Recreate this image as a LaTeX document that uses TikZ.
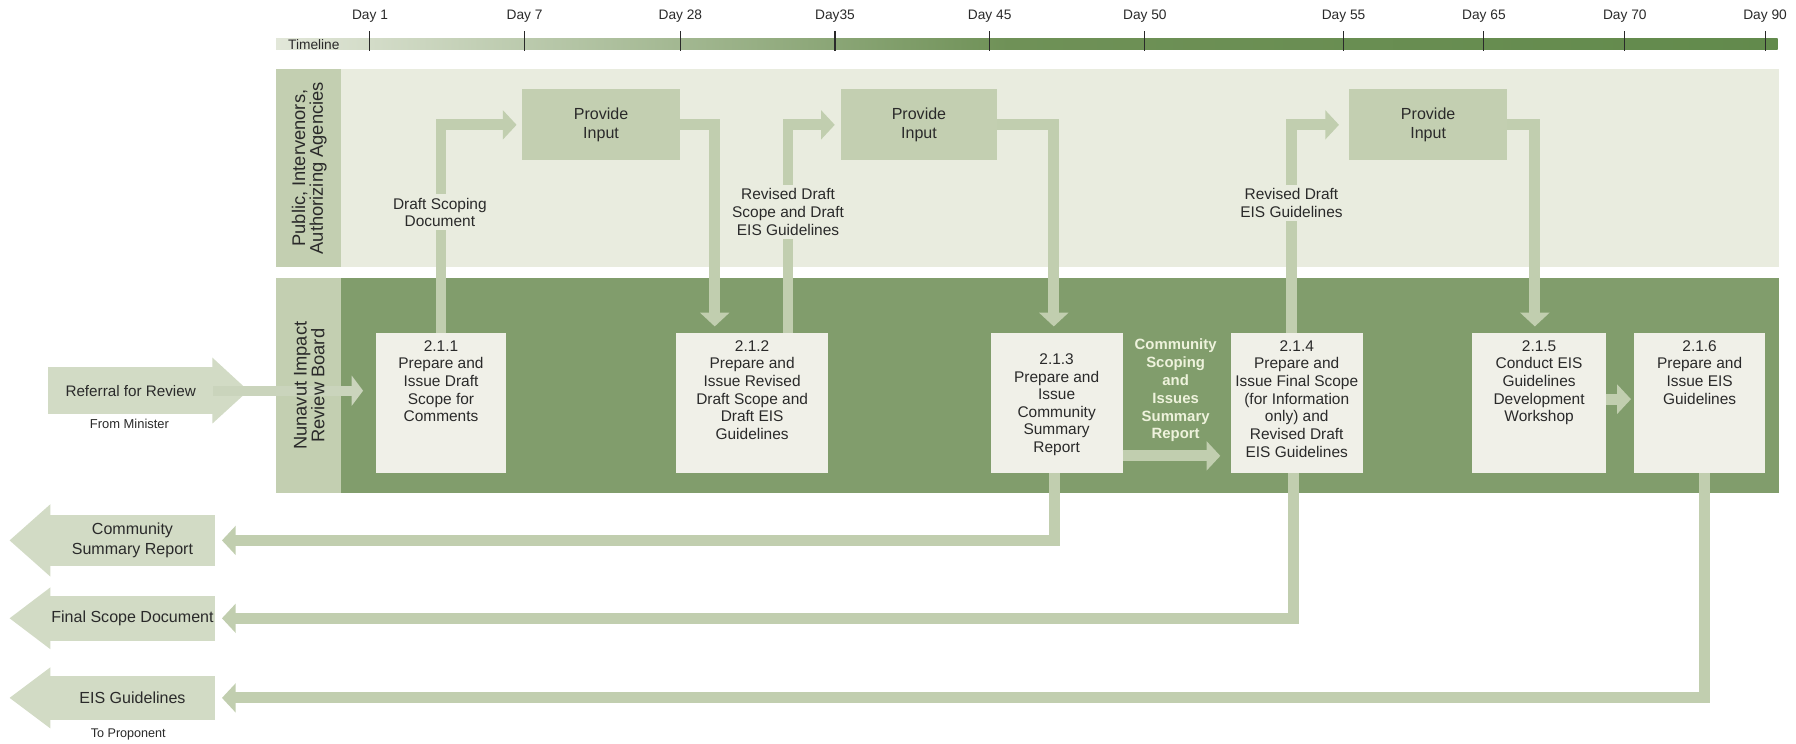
\documentclass[tikz,border=0pt]{standalone}
\usepackage{fontspec}
\setmainfont{Liberation Sans}
\usetikzlibrary{arrows.meta}
\definecolor{cPanelTop}{HTML}{E9ECDF}
\definecolor{cPanelBot}{HTML}{819D6C}
\definecolor{cLabel}{HTML}{C3CFB1}
\definecolor{cArrow}{HTML}{C1CEAF}
\definecolor{cRefBar}{HTML}{CAD4BC}
\definecolor{cBlock}{HTML}{D2DBC5}
\definecolor{cBox}{HTML}{F0F0E8}
\definecolor{cText}{HTML}{2A2A2A}
\definecolor{cCream}{HTML}{EEF2DC}
\definecolor{cTLa}{HTML}{E2E7D9}
\definecolor{cTLb}{HTML}{6F9157}
\definecolor{cTLc}{HTML}{628A4C}
\newcommand{\fs}[2]{\fontsize{#1pt}{#2pt}\selectfont}
\newcommand{\pbx}[3]{\parbox[c][122.5pt][t]{#1}{\centering\vspace*{#2}#3\par}}
\tikzset{
  procbox/.style={fill=cBox, inner sep=0pt, outer sep=0pt, text=cText, font=\fs{13.5}{15.4}},
  inputbox/.style={fill=cLabel, inner sep=0pt, outer sep=0pt, text=cText, align=center,
    font=\fs{14}{17}, minimum height=62pt},
  conn/.style={draw=cArrow, line width=9.5pt, -{Triangle[width=25pt,length=12pt]}},
  connlabel/.style={fill=cPanelTop, inner xsep=2pt, inner ysep=3pt, align=center, text=cText,
    font=\fs{13.5}{15.5}},
  blockbody/.style={fill=cBlock, inner sep=0pt, outer sep=0pt, align=center, text=cText,
    font=\fs{14}{18}, minimum width=144.3pt},
  daylabel/.style={text=cText, font=\fs{12}{14}},
  tickmark/.style={draw=cText, line width=0.9pt},
  lanelabel/.style={rotate=90, align=center, text=cText, font=\fs{16}{15.5}},
  smallnote/.style={text=cText, font=\fs{11}{13}},
}
\begin{document}
\begin{tikzpicture}[x=1pt,y=-1pt]
\useasboundingbox (0,0) rectangle (1568,649.5);
\fill[white] (0,0) rectangle (1568,649.5);

% ---------------- timeline ----------------
\shade[left color=cTLa, right color=cTLb] (241,33.5) rectangle (880,43.5);
\shade[left color=cTLb, right color=cTLc] (879.5,33.5) rectangle (1552,43.5);
\node[anchor=west, text=cText, font=\fs{12}{14}] (tl) at (248,38.5) {Timeline};
\foreach \x/\d in {323/Day 1, 458/Day 7, 594/Day 28, 729/Day35, 864/Day 45,
                   999.5/Day 50, 1173/Day 55, 1295.5/Day 65, 1418.5/Day 70, 1541/Day 90}{
  \draw[tickmark] (\x,27.5) -- (\x,44.5);
  \node[daylabel] at (\x,14.5) {\d};
}

% ---------------- swimlanes ----------------
\fill[cLabel]    (241,60.5) rectangle (298,233);
\fill[cPanelTop] (298,60.5) rectangle (1553,233);
\fill[cLabel]    (241,243) rectangle (298,430.5);
\fill[cPanelBot] (298,243) rectangle (1553,430.5);

% ---------------- input boxes ----------------
\node[inputbox, minimum width=137.5pt] (pi1) at (524.75,109) {Provide\\Input};
\node[inputbox, minimum width=137pt]   (pi2) at (802.3,109)  {Provide\\Input};
\node[inputbox, minimum width=137.7pt] (pi3) at (1246.85,109) {Provide\\Input};

% ---------------- process boxes ----------------
\node[procbox] (b211) at (385,351.75)    {\pbx{114pt}{6.7pt}{2.1.1\\Prepare and\\Issue Draft\\Scope for\\Comments}};
\node[procbox] (b212) at (656.65,351.75) {\pbx{132.3pt}{6.7pt}{2.1.2\\Prepare and\\Issue Revised\\Draft Scope and\\Draft EIS\\Guidelines}};
\node[procbox] (b213) at (922.5,351.75)  {\pbx{115.4pt}{18.2pt}{2.1.3\\Prepare and\\Issue\\Community\\Summary\\Report}};
\node[procbox] (b214) at (1132.1,351.75) {\pbx{115.4pt}{6.7pt}{2.1.4\\Prepare and\\Issue Final Scope\\(for Information\\only) and\\Revised Draft\\EIS Guidelines}};
\node[procbox] (b215) at (1343.7,351.75) {\pbx{116.4pt}{6.7pt}{2.1.5\\Conduct EIS\\Guidelines\\Development\\Workshop}};
\node[procbox] (b216) at (1483.85,351.75){\pbx{114.9pt}{6.7pt}{2.1.6\\Prepare and\\Issue EIS\\Guidelines}};

% ---------------- block arrows (in / out) ----------------
\node[blockbody, minimum width=143.8pt, minimum height=40.8pt, font=\fs{13.3}{16}] (ref) at (114.1,341.1) {Referral for Review};
\fill[cBlock] ([xshift=-0.5pt,yshift=8.4pt]ref.north east) -- ([xshift=30.8pt]ref.east)
   -- ([xshift=-0.5pt,yshift=-8.2pt]ref.south east) -- cycle;
\node[smallnote, font=\fs{11.3}{13}] (frommin) at (113,370) {From Minister};

\node[blockbody, minimum height=44.4pt] (csr) at (115.65,471.8) {Community\\Summary Report};
\fill[cBlock] ([xshift=0.5pt,yshift=9.4pt]csr.north west) -- ([xshift=-35.1pt]csr.west)
   -- ([xshift=0.5pt,yshift=-9.4pt]csr.south west) -- cycle;

\node[blockbody, minimum height=39pt] (fsd) at (115.65,539.8) {Final Scope Document};
\fill[cBlock] ([xshift=0.5pt,yshift=7.5pt]fsd.north west) -- ([xshift=-35.1pt]fsd.west)
   -- ([xshift=0.5pt,yshift=-7.5pt]fsd.south west) -- cycle;

\node[blockbody, minimum height=38.6pt] (eis) at (115.65,609.3) {EIS Guidelines};
\fill[cBlock] ([xshift=0.5pt,yshift=7.4pt]eis.north west) -- ([xshift=-35.1pt]eis.west)
   -- ([xshift=0.5pt,yshift=-7.4pt]eis.south west) -- cycle;
\node[smallnote] (toprop) at (112,640.8) {To Proponent};

% ---------------- connectors ----------------
\draw[conn, draw=cRefBar, line width=9pt, -{Triangle[width=26pt,length=10pt]}, shorten >=11pt]
   (ref.east) -- (ref.east -| b211.west);
\draw[conn, shorten >=5pt]   (b211.north) |- (pi1.west);
\draw[conn, shorten >=5.5pt] (pi1.east) -| ([xshift=-32.65pt]b212.north);
\draw[conn, shorten >=5pt]   ([xshift=31.35pt]b212.north) |- (pi2.west);
\draw[conn, shorten >=5.5pt] (pi2.east) -| ([xshift=-2.5pt]b213.north);
\draw[conn, shorten >=9pt]   ([yshift=-46.25pt]b213.east) -- ([yshift=-46.25pt]b214.west);
\draw[conn, shorten >=9pt]   ([xshift=-4.6pt]b214.north) |- (pi3.west);
\draw[conn, shorten >=5.5pt] (pi3.east) -| ([xshift=-3.7pt]b215.north);
\draw[conn, shorten >=2.5pt] ([yshift=3.25pt]b215.east) -- ([yshift=3.25pt]b216.west);
\draw[conn, shorten >=6pt]   ([xshift=-2pt]b213.south) |- (csr.east);
\draw[conn, shorten >=6pt]   ([xshift=-2.5pt]b214.south) |- (fsd.east);
\draw[conn, shorten >=6pt]   ([xshift=4pt]b216.south) |- (eis.east);

% ---------------- lane labels (on top of the referral bar) ----------------
\node[lanelabel] (lanetop) at (270,146.8) {Public, Intervenors,\\Authorizing Agencies};
\node[lanelabel] (lanebot) at (270,336.8) {Nunavut Impact\\Review Board};

% ---------------- connector labels ----------------
\node[connlabel] (ldraft) at (384,185.5) {Draft Scoping\\Document};
\node[connlabel] (lrev1)  at (688,185)   {Revised Draft\\Scope and Draft\\EIS Guidelines};
\node[connlabel] (lrev2)  at (1127.5,177) {Revised Draft\\EIS Guidelines};
\node[align=center, text=cCream, font=\bfseries\fs{13}{15.55}] (lcsisr) at (1026.4,341)
   {Community\\Scoping\\and\\Issues\\Summary\\Report};
\end{tikzpicture}
\end{document}
